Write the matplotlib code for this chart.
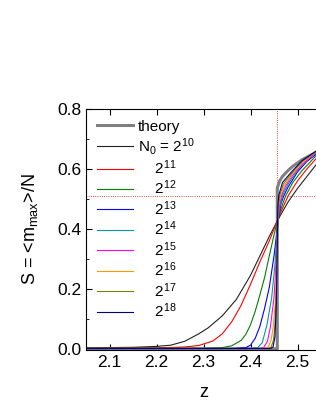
import numpy as np
import matplotlib
matplotlib.use('Agg')
import matplotlib.pyplot as plt
from matplotlib.ticker import MultipleLocator

plt.rcParams['font.family'] = ['Liberation Sans', 'DejaVu Sans']
plt.rcParams['mathtext.fontset'] = 'custom'
plt.rcParams['mathtext.rm'] = 'Liberation Sans'
plt.rcParams['mathtext.it'] = 'Liberation Sans'

# theory curve
z_theory = [2.05, 2.457, 2.457, 2.462, 2.468, 2.48, 2.49, 2.51, 2.54]
s_theory = [0.0, 0.0, 0.537, 0.56, 0.575, 0.595, 0.609, 0.631, 0.656]

# finite-size curves, N0 = 2^10 ... 2^18
z_10 = [2.05, 2.15, 2.20, 2.23, 2.26, 2.29, 2.31, 2.34, 2.37, 2.40, 2.42, 2.44, 2.46, 2.48, 2.50, 2.52, 2.54]
s_10 = [0.003, 0.005, 0.008, 0.012, 0.025, 0.05, 0.07, 0.11, 0.165, 0.245, 0.31, 0.375, 0.435, 0.49, 0.535, 0.575, 0.615]

z_11 = [2.05, 2.20, 2.26, 2.29, 2.32, 2.34, 2.36, 2.38, 2.40, 2.42, 2.44, 2.46, 2.48, 2.50, 2.52, 2.54]
s_11 = [0.002, 0.003, 0.006, 0.011, 0.026, 0.05, 0.09, 0.145, 0.215, 0.29, 0.36, 0.44, 0.51, 0.56, 0.60, 0.635]

z_12 = [2.05, 2.30, 2.34, 2.36, 2.38, 2.39, 2.40, 2.41, 2.42, 2.43, 2.44, 2.45, 2.46, 2.47, 2.475, 2.49, 2.51, 2.54]
s_12 = [0.002, 0.002, 0.004, 0.01, 0.028, 0.048, 0.08, 0.125, 0.18, 0.238, 0.31, 0.38, 0.445, 0.49, 0.511, 0.555, 0.595, 0.645]

z_13 = [2.05, 2.36, 2.39, 2.40, 2.41, 2.42, 2.43, 2.44, 2.45, 2.46, 2.465, 2.471, 2.48, 2.50, 2.52, 2.54]
s_13 = [0.001, 0.001, 0.004, 0.012, 0.035, 0.075, 0.135, 0.205, 0.31, 0.44, 0.485, 0.511, 0.54, 0.59, 0.625, 0.65]

z_14 = [2.05, 2.40, 2.415, 2.425, 2.435, 2.445, 2.452, 2.458, 2.462, 2.468, 2.48, 2.50, 2.52, 2.54]
s_14 = [0.001, 0.001, 0.004, 0.02, 0.08, 0.17, 0.28, 0.42, 0.47, 0.511, 0.55, 0.595, 0.63, 0.653]

z_15 = [2.05, 2.42, 2.428, 2.436, 2.442, 2.450, 2.455, 2.458, 2.461, 2.466, 2.475, 2.49, 2.51, 2.54]
s_15 = [0.001, 0.001, 0.004, 0.025, 0.07, 0.17, 0.3, 0.42, 0.47, 0.511, 0.545, 0.58, 0.615, 0.655]

z_16 = [2.05, 2.43, 2.438, 2.444, 2.448, 2.453, 2.456, 2.458, 2.460, 2.464, 2.472, 2.49, 2.51, 2.54]
s_16 = [0.001, 0.001, 0.006, 0.03, 0.07, 0.16, 0.3, 0.43, 0.48, 0.511, 0.545, 0.585, 0.62, 0.657]

z_17 = [2.05, 2.438, 2.444, 2.449, 2.452, 2.455, 2.457, 2.459, 2.462, 2.47, 2.49, 2.51, 2.54]
s_17 = [0.001, 0.001, 0.006, 0.03, 0.08, 0.2, 0.38, 0.47, 0.511, 0.55, 0.59, 0.625, 0.658]

z_18 = [2.05, 2.443, 2.448, 2.452, 2.455, 2.457, 2.458, 2.460, 2.468, 2.49, 2.51, 2.54]
s_18 = [0.001, 0.001, 0.006, 0.04, 0.15, 0.35, 0.47, 0.511, 0.555, 0.595, 0.628, 0.66]

labels = ['N$_0$ = 2$^{10}$', '    2$^{11}$', '    2$^{12}$', '    2$^{13}$', '    2$^{14}$',
          '    2$^{15}$', '    2$^{16}$', '    2$^{17}$', '    2$^{18}$']
colors = ['#222222', '#ff0000', '#008000', '#0000ff', '#009a9a',
          '#ff00ff', '#ff9900', '#808000', '#000080']

z_c = 2.4564   # critical point marker
s_c = 0.511

fig = plt.figure(figsize=(3.16, 4.09), dpi=100)
ax = fig.add_axes([86 / 316, 59 / 409, 235 / 316, 241 / 409])

ax.axvline(z_c, color='red', ls=':', lw=0.6)
ax.axhline(s_c, color='red', ls=':', lw=0.6)

ax.plot(z_theory, s_theory, color='#808080', lw=2.2, label='theory')
curves = [(z_10, s_10), (z_11, s_11), (z_12, s_12), (z_13, s_13), (z_14, s_14),
          (z_15, s_15), (z_16, s_16), (z_17, s_17), (z_18, s_18)]
for (z, s), lab, c in zip(curves, labels, colors):
    ax.plot(z, s, color=c, lw=0.8, label=lab)

ax.set_xlim(2.05, 2.55)
ax.set_ylim(-0.004, 0.8)
ax.xaxis.set_major_locator(MultipleLocator(0.1))
ax.yaxis.set_major_locator(MultipleLocator(0.2))
ax.yaxis.set_minor_locator(MultipleLocator(0.1))
ax.tick_params(which='both', direction='in', top=True, right=False, labelsize=12.5)
ax.tick_params(which='major', length=4)
ax.tick_params(which='minor', length=2.5)
ax.set_xticks([2.1, 2.2, 2.3, 2.4, 2.5])
ax.set_xticklabels(['2.1', '2.2', '2.3', '2.4', '2.5'])
ax.set_yticks([0.0, 0.2, 0.4, 0.6, 0.8])
ax.set_yticklabels(['0.0', '0.2', '0.4', '0.6', '0.8'])

ax.set_xlabel('z', fontsize=13, labelpad=10)
ax.set_ylabel('S = <m$_{\\mathrm{max}}$>/N', fontsize=13, labelpad=12)

ax.legend(loc='upper left', frameon=False, fontsize=11, handlelength=2.4,
          handletextpad=0.3, labelspacing=0.12, borderaxespad=0.3)

fig.savefig('out.png', dpi=100)
